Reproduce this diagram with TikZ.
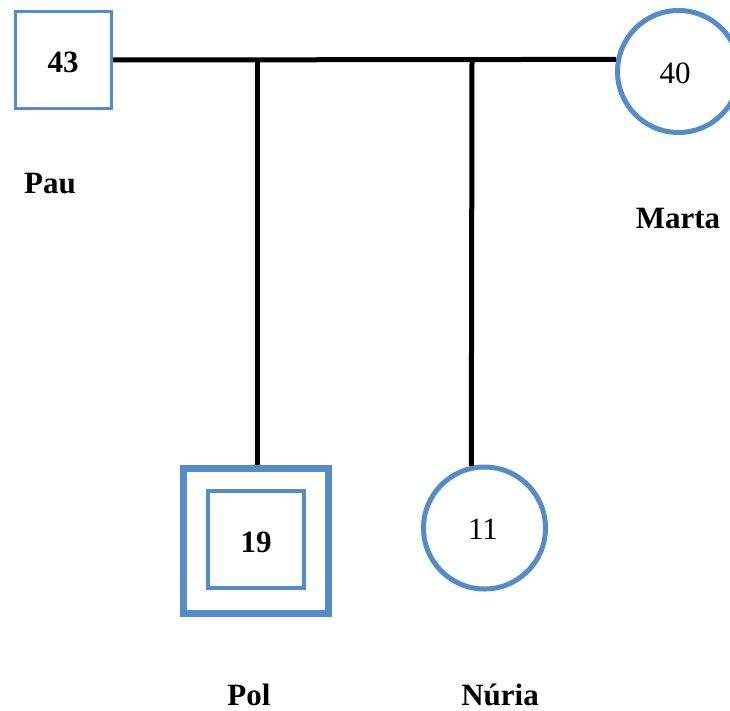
\documentclass[tikz,border=0pt]{standalone}
\usepackage{fontspec}
\setmainfont{Liberation Serif}
\definecolor{famblue}{RGB}{84,139,200}
\tikzset{
  person/.style={draw=famblue, fill=white, inner sep=0pt},
  male/.style={person, rectangle, minimum size=96bp, line width=3bp},
  female/.style={person, circle, minimum size=122bp, line width=5bp},
  link/.style={draw=black, line width=5bp},
  numtext/.style={anchor=base, inner sep=0pt, font=\fontsize{31bp}{33bp}\selectfont},
  boldnum/.style={numtext, font=\fontsize{31bp}{33bp}\selectfont\bfseries},
  nametext/.style={anchor=base, inner sep=0pt, font=\fontsize{31bp}{34bp}\selectfont\bfseries},
}
\begin{document}
\begin{tikzpicture}[x=1bp, y=-1bp]
\useasboundingbox (0,0) rectangle (730,711);

% parents
\node[male] (pau) at (63.5,60) {};
\node[female] (marta) at (678.5,71.5) {};

% children
\node[person, rectangle, minimum size=145bp, line width=7bp] (pol) at (256,540.5) {};
\node[person, rectangle, minimum width=96bp, minimum height=97bp, line width=4bp] (polin) at (256,539.5) {};
\node[female] (nuria) at (484.5,528) {};

% ages
\node[boldnum] (agepau) at (63,72.5) {43};
\node[numtext] (agemarta) at (675,83.5) {40};
\node[boldnum] (agepol) at (256,552.5) {19};
\node[numtext] (agenuria) at (483,539.5) {11};

% names
\node[nametext] (npau) at (50,193) {Pau};
\node[nametext] (nmarta) at (678,228) {Marta};
\node[nametext] (npol) at (249,705) {Pol};
\node[nametext] (nnuria) at (500,705) {Núria};

% family lines
\coordinate (j1) at (257,60);
\coordinate (j2) at (472,60);
\draw[link] (pau.east) -- (marta.169);
\draw[link] (j1) -- (pol.north -| j1);
\draw[link] (j2) -- (nuria.102);
\end{tikzpicture}
\end{document}
